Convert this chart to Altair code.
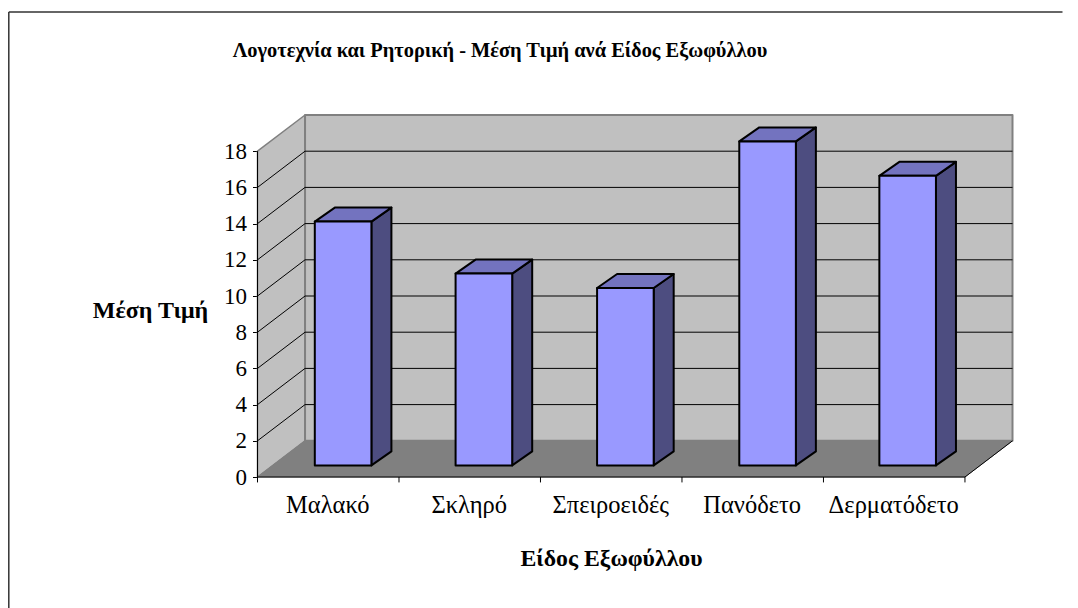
import json
import altair as alt
import pandas as pd

categories = ["Μαλακό", "Σκληρό", "Σπειροειδές", "Πανόδετο", "Δερματόδετο"]
values = [13.47, 10.6, 9.8, 17.9, 16.0]
y_ticks = [0, 2, 4, 6, 8, 10, 12, 14, 16, 18]
bar_lefts = [0.405, 1.4, 2.4, 3.405, 4.395]

FONT = "Liberation Serif"
DX, DV = 0.336, 2.0          # depth of the box (x: categories, y: value units)
BDX, BDV = 0.1414, 0.773     # depth of each bar
BASE = 0.64                  # where the bars stand on the floor
BAR_W = 0.4
XMAX = 5 + DX
YMAX = 18 + DV

x_scale = alt.Scale(domain=[0, XMAX], nice=False, zero=False)
y_scale = alt.Scale(domain=[0, YMAX], nice=False, zero=False)


def X(**kw):
    return alt.X("x:Q", scale=x_scale, **kw)


def Y(**kw):
    return alt.Y("y:Q", scale=y_scale, **kw)


def area(rows, fill, stroke, sw=1.0):
    df = pd.DataFrame(rows, columns=["x", "y", "y2"])
    return alt.Chart(df).mark_area(
        orient="vertical", fill=fill, stroke=stroke, strokeWidth=sw,
        strokeJoin="round", clip=False
    ).encode(x=X(), y=Y(), y2="y2:Q")


def lines(rows, color, sw=1.0):
    df = pd.DataFrame(rows, columns=["k", "x", "y"])
    return alt.Chart(df).mark_line(color=color, strokeWidth=sw, clip=False).encode(
        x=X(), y=Y(), detail="k:N"
    )


def rect(x0, x1, y0, y1, fill, stroke, sw):
    df = pd.DataFrame([{"x": x0, "x2": x1, "y": y0, "y2": y1}])
    return alt.Chart(df).mark_rect(
        fill=fill, stroke=stroke, strokeWidth=sw, strokeJoin="round", clip=False
    ).encode(x=X(), x2="x2:Q", y=Y(), y2="y2:Q")


# axes carried by an invisible layer
axis_df = pd.DataFrame({"x": [0, XMAX], "y": [0, YMAX]})
label_expr = "%s[floor(datum.value)]" % json.dumps(categories, ensure_ascii=False)
axes = alt.Chart(axis_df).mark_point(opacity=0).encode(
    x=alt.X(
        "x:Q", scale=x_scale,
        axis=alt.Axis(
            values=[i + 0.5 for i in range(5)], labelExpr=label_expr, ticks=False,
            domain=False, grid=False, labelFont=FONT, labelFontSize=24.5,
            labelColor="black", labelPadding=16, labelOverlap=False, labelFlush=False,
            labelBound=False, labelOffset=-1, title="Είδος Εξωφύλλου", titleFont=FONT,
            titleFontSize=23.8, titleFontWeight="bold", titleColor="black", titleX=353.5,
            titleY=81, titleAlign="center", titleBaseline="middle",
        ),
    ),
    y=alt.Y(
        "y:Q", scale=y_scale,
        axis=alt.Axis(
            values=y_ticks, domain=False, grid=False, tickSize=5, tickColor="black",
            tickWidth=1, labelFont=FONT, labelFontSize=23, labelColor="black",
            labelPadding=6, labelOverlap=False, labelFlush=False, labelBound=False,
            title="Μέση Τιμή", titleAngle=0, titleFont=FONT, titleFontSize=24,
            titleFontWeight="bold", titleColor="black", titleX=-107.5, titleY=195,
            titleAlign="center", titleBaseline="middle",
        ),
    ),
)

layers = [axes]
# left wall
layers.append(area([(0, 18, 0), (DX, YMAX, DV)], "#C0C0C0", "#808080", 1.5))
# back wall
layers.append(rect(DX, XMAX, DV, YMAX, "#C0C0C0", "#808080", 2))
# grid lines
grid_vals = [v for v in y_ticks if 0 < v < 18]
diag = []
back = []
for v in grid_vals:
    diag += [(v, 0, v), (v, DX, v + DV)]
    back += [(v, DX, v + DV), (v, XMAX, v + DV)]
layers.append(lines(diag, "black"))
layers.append(lines(back, "black"))
# floor
layers.append(area([(0, 0, 0), (DX, DV, 0), (5, DV, 0), (XMAX, DV, DV)], "#808080", "#808080", 1))
layers.append(lines([("r", 5, 0), ("r", XMAX, DV)], "black"))
# axis lines and category ticks
layers.append(lines([("a", 0, 0), ("a", 0, 18)], "black"))
layers.append(lines([("b", 0, 0), ("b", 5, 0)], "black"))
layers.append(lines([(i, i, 0) for i in range(6)] + [(i, i, -0.3) for i in range(6)], "black"))
# bars
for left, val in zip(bar_lefts, values):
    right = left + BAR_W
    top = BASE + val
    layers.append(area([(right, top, BASE), (right + BDX, top + BDV, BASE + BDV)], "#4D4D80", "black", 2))
    layers.append(area(
        [(left, top, top), (left + BDX, top + BDV, top), (right, top + BDV, top),
         (right + BDX, top + BDV, top + BDV)],
        "#7373BF", "black", 2,
    ))
    layers.append(rect(left, right, BASE, top, "#9999FF", "black", 2))

# frame along the top and the left of the page
one = pd.DataFrame({"k": [1]})
layers.append(alt.Chart(one).mark_rule(color="#333333", strokeWidth=1.5, clip=False).encode(
    x=alt.value(-248.7), x2=alt.value(805), y=alt.value(-103)))
layers.append(alt.Chart(one).mark_rule(color="#333333", strokeWidth=1.5, clip=False).encode(
    x=alt.value(-248.7), y=alt.value(-103), y2=alt.value(493)))

chart = alt.layer(*layers).properties(
    width=755, height=362,
    padding={"left": 249.5, "top": 107, "right": 57.5, "bottom": 131},
    autosize=alt.AutoSizeParams(type="none"),
    title=alt.TitleParams(
        "Λογοτεχνία και Ρητορική - Μέση Τιμή ανά Είδος Εξωφύλλου",
        font=FONT, fontSize=20.4, fontWeight="bold", color="black",
        anchor="middle", dx=-135, offset=0, dy=50,
    ),
).configure_view(stroke=None)

chart.save("out.html", embed_options={"renderer": "svg", "actions": False})
